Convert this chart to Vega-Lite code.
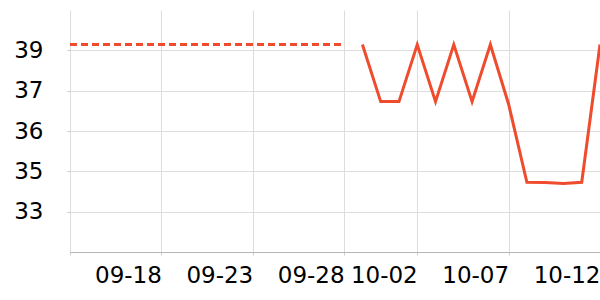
{
  "$schema": "https://vega.github.io/schema/vega-lite/v6.json",
  "autosize": "none",
  "width": 530,
  "height": 242,
  "padding": {"left": 70, "top": 10, "right": 0, "bottom": 48},
  "config": {"view": {"stroke": null}, "font": "DejaVu Sans"},
  "data": {
    "values": [
      {"date": "2023-09-13T00:00:00", "value": 39.0, "series": "forecast"},
      {"date": "2023-09-14T00:00:00", "value": 39.0, "series": "forecast"},
      {"date": "2023-09-15T00:00:00", "value": 39.0, "series": "forecast"},
      {"date": "2023-09-16T00:00:00", "value": 39.0, "series": "forecast"},
      {"date": "2023-09-17T00:00:00", "value": 39.0, "series": "forecast"},
      {"date": "2023-09-18T00:00:00", "value": 39.0, "series": "forecast"},
      {"date": "2023-09-19T00:00:00", "value": 39.0, "series": "forecast"},
      {"date": "2023-09-20T00:00:00", "value": 39.0, "series": "forecast"},
      {"date": "2023-09-21T00:00:00", "value": 39.0, "series": "forecast"},
      {"date": "2023-09-22T00:00:00", "value": 39.0, "series": "forecast"},
      {"date": "2023-09-23T00:00:00", "value": 39.0, "series": "forecast"},
      {"date": "2023-09-24T00:00:00", "value": 39.0, "series": "forecast"},
      {"date": "2023-09-25T00:00:00", "value": 39.0, "series": "forecast"},
      {"date": "2023-09-26T00:00:00", "value": 39.0, "series": "forecast"},
      {"date": "2023-09-27T00:00:00", "value": 39.0, "series": "forecast"},
      {"date": "2023-09-28T00:00:00", "value": 39.0, "series": "forecast"},
      {"date": "2023-09-29T00:00:00", "value": 39.0, "series": "actual"},
      {"date": "2023-09-30T00:00:00", "value": 37.02, "series": "actual"},
      {"date": "2023-10-01T00:00:00", "value": 37.02, "series": "actual"},
      {"date": "2023-10-02T00:00:00", "value": 39.0, "series": "actual"},
      {"date": "2023-10-03T00:00:00", "value": 37.02, "series": "actual"},
      {"date": "2023-10-04T00:00:00", "value": 39.0, "series": "actual"},
      {"date": "2023-10-05T00:00:00", "value": 37.02, "series": "actual"},
      {"date": "2023-10-06T00:00:00", "value": 39.0, "series": "actual"},
      {"date": "2023-10-07T00:00:00", "value": 36.93, "series": "actual"},
      {"date": "2023-10-08T00:00:00", "value": 34.22, "series": "actual"},
      {"date": "2023-10-09T00:00:00", "value": 34.21, "series": "actual"},
      {"date": "2023-10-10T00:00:00", "value": 34.18, "series": "actual"},
      {"date": "2023-10-11T00:00:00", "value": 34.22, "series": "actual"},
      {"date": "2023-10-12T00:00:00", "value": 39.0, "series": "actual"}
    ]
  },
  "encoding": {
    "x": {
      "field": "date",
      "type": "temporal",
      "title": null,
      "scale": {
        "domain": [
          {"year": 2023, "month": 9, "date": 13},
          {"year": 2023, "month": 10, "date": 12}
        ]
      },
      "axis": {
        "values": [
          {"year": 2023, "month": 9, "date": 13},
          {"year": 2023, "month": 9, "date": 18},
          {"year": 2023, "month": 9, "date": 23},
          {"year": 2023, "month": 9, "date": 28},
          {"year": 2023, "month": 10, "date": 2},
          {"year": 2023, "month": 10, "date": 7},
          {"year": 2023, "month": 10, "date": 12}
        ],
        "labelExpr": "datum.index == 0 ? '' : timeFormat(datum.value, '%m-%d')",
        "labelFontSize": 23,
        "labelFont": "DejaVu Sans",
        "labelColor": "#000000",
        "labelAlign": "right",
        "labelBaseline": "top",
        "labelPadding": 9,
        "labelOverlap": false,
        "labelFlush": false,
        "tickSize": 3,
        "tickColor": "#cccccc",
        "domainColor": "#b5b5b5",
        "grid": true,
        "gridColor": "#dddddd"
      }
    },
    "y": {
      "field": "value",
      "type": "quantitative",
      "title": null,
      "scale": {"domain": [31.8, 40.2], "nice": false, "zero": false},
      "axis": {
        "values": [33.2, 34.6, 36.0, 37.4, 38.8],
        "format": ".0f",
        "labelFontSize": 23,
        "labelFont": "DejaVu Sans",
        "labelColor": "#000000",
        "labelPadding": 24,
        "tickSize": 3,
        "tickColor": "#cccccc",
        "domain": false,
        "grid": true,
        "gridColor": "#dddddd"
      }
    }
  },
  "layer": [
    {
      "transform": [{"filter": "datum.series == 'forecast'"}],
      "mark": {"type": "line", "color": "#ef4b2d", "strokeWidth": 3, "strokeDash": [7, 4]}
    },
    {
      "transform": [{"filter": "datum.series == 'actual'"}],
      "mark": {"type": "line", "color": "#ef4b2d", "strokeWidth": 3}
    }
  ]
}
